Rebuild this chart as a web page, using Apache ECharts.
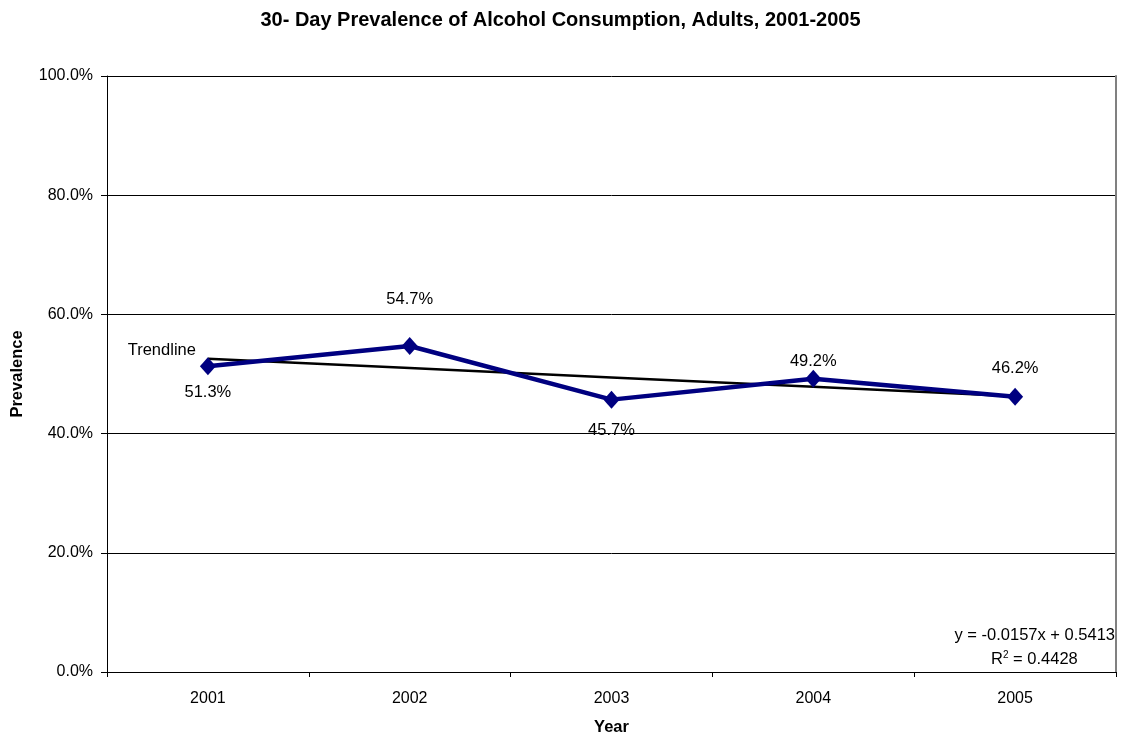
<!DOCTYPE html>
<html>
<head>
<meta charset="utf-8">
<title>30- Day Prevalence of Alcohol Consumption, Adults, 2001-2005</title>
<script src="https://cdn.jsdelivr.net/npm/echarts@6/dist/echarts.min.js"></script>
<style>
  html, body { margin: 0; padding: 0; background: #fff; }
  #chart { width: 1121px; height: 734px; }
</style>
</head>
<body>
<div id="chart"></div>
<script>
// Survey years and 30-day prevalence (%)
const years = ['2001', '2002', '2003', '2004', '2005'];
const prevalence = [51.3, 54.7, 45.7, 49.2, 46.2];

// Linear trend as reported: y = slope * x + intercept (x = 1..5, y as fraction)
const trendSlope = -0.0157;
const trendIntercept = 0.5413;
const trendR2 = 0.4428;

// Y axis ticks (percent)
const yTicks = [0, 20, 40, 60, 80, 100];

// Where each value label sits relative to its marker
const labelSide = ['bottom', 'top', 'bottom', 'top', 'top'];
const labelGap = [9, 29, 13, 0, 11];

const FONT = 'Liberation Sans, Arial, sans-serif';

const trendValues = years.map((_, i) => +(100 * (trendSlope * (i + 1) + trendIntercept)).toFixed(3));

const chart = echarts.init(document.getElementById('chart'), null, { renderer: 'canvas' });

chart.setOption({
  backgroundColor: '#ffffff',
  animation: false,
  textStyle: { fontFamily: FONT },
  title: {
    text: '30- Day Prevalence of Alcohol Consumption, Adults, 2001-2005',
    left: 'center',
    top: 5,
    textStyle: { fontFamily: FONT, fontSize: 20, fontWeight: 'bold', color: '#000' }
  },
  grid: { left: 107, right: 5, top: 76, bottom: 62, outerBoundsMode: 'none', containLabel: false },
  xAxis: [{
    type: 'category',
    data: years,
    boundaryGap: true,
    name: 'Year',
    nameLocation: 'middle',
    nameGap: 47,
    nameTextStyle: { fontFamily: FONT, fontSize: 16.5, fontWeight: 'bold', color: '#000' },
    axisLine: { lineStyle: { color: '#000', width: 1 } },
    axisTick: { show: true, length: 5, lineStyle: { color: '#000' } },
    axisLabel: { margin: 19, fontFamily: FONT, fontSize: 16, color: '#000' },
    splitLine: { show: false }
  }, {
    // top frame edge
    type: 'category',
    data: years,
    position: 'top',
    axisLine: { show: true, lineStyle: { color: '#000', width: 1 } },
    axisTick: { show: false },
    axisLabel: { show: false },
    splitLine: { show: false }
  }],
  yAxis: [{
    type: 'value',
    min: yTicks[0],
    max: yTicks[yTicks.length - 1],
    interval: 20,
    name: 'Prevalence',
    nameLocation: 'middle',
    nameGap: 81,
    nameRotate: 90,
    nameTextStyle: { fontFamily: FONT, fontSize: 16.5, fontWeight: 'bold', color: '#000' },
    axisLine: { show: true, lineStyle: { color: '#000', width: 1 } },
    axisTick: { show: true, length: 6, lineStyle: { color: '#000' } },
    axisLabel: {
      margin: 14,
      fontFamily: FONT,
      fontSize: 16,
      color: '#000',
      padding: [3, 0, 0, 0],
      formatter: v => v.toFixed(1) + '%'
    },
    splitLine: { show: true, lineStyle: { color: '#000', width: 1 } }
  }, {
    // right frame edge
    type: 'value',
    position: 'right',
    min: 0,
    max: 100,
    axisLine: { show: true, lineStyle: { color: '#808080', width: 2 } },
    axisTick: { show: false },
    axisLabel: { show: false },
    splitLine: { show: false }
  }],
  series: [{
    name: 'Trendline',
    type: 'line',
    data: trendValues.map((v, i) => i === 0 ? {
      value: v,
      label: {
        show: true,
        position: 'left',
        distance: 0,
        offset: [-12, -8],
        formatter: 'Trendline',
        fontFamily: FONT,
        fontSize: 16.5,
        color: '#000'
      }
    } : v),
    symbol: 'circle',
    symbolSize: 0.01,
    showSymbol: true,
    lineStyle: { color: '#000', width: 2.5 },
    itemStyle: { color: '#000' },
    label: { show: false },
    emphasis: { disabled: true },
    z: 2
  }, {
    name: 'Prevalence',
    type: 'line',
    data: prevalence.map((v, i) => ({
      value: v,
      label: { position: labelSide[i], distance: labelGap[i] }
    })),
    symbol: 'diamond',
    symbolSize: [16, 18],
    lineStyle: { color: '#000080', width: 4.5 },
    itemStyle: { color: '#000080' },
    label: {
      show: true,
      formatter: p => p.value.toFixed(1) + '%',
      fontFamily: FONT,
      fontSize: 16.5,
      color: '#000'
    },
    emphasis: { disabled: true },
    z: 3
  }],
  graphic: [{
    type: 'text',
    right: 6,
    top: 627,
    style: {
      text: 'y = ' + trendSlope.toFixed(4) + 'x + ' + trendIntercept.toFixed(4),
      fontFamily: FONT,
      fontSize: 16.5,
      fill: '#000'
    }
  }, {
    type: 'text',
    left: 991,
    top: 650,
    style: {
      text: 'R{sup|2} = ' + trendR2.toFixed(4),
      fontFamily: FONT,
      fontSize: 16.5,
      fill: '#000',
      rich: {
        sup: { fontFamily: FONT, fontSize: 10, verticalAlign: 'top', padding: [0, 0, 8, 0], fill: '#000' }
      }
    }
  }]
});
</script>
</body>
</html>
